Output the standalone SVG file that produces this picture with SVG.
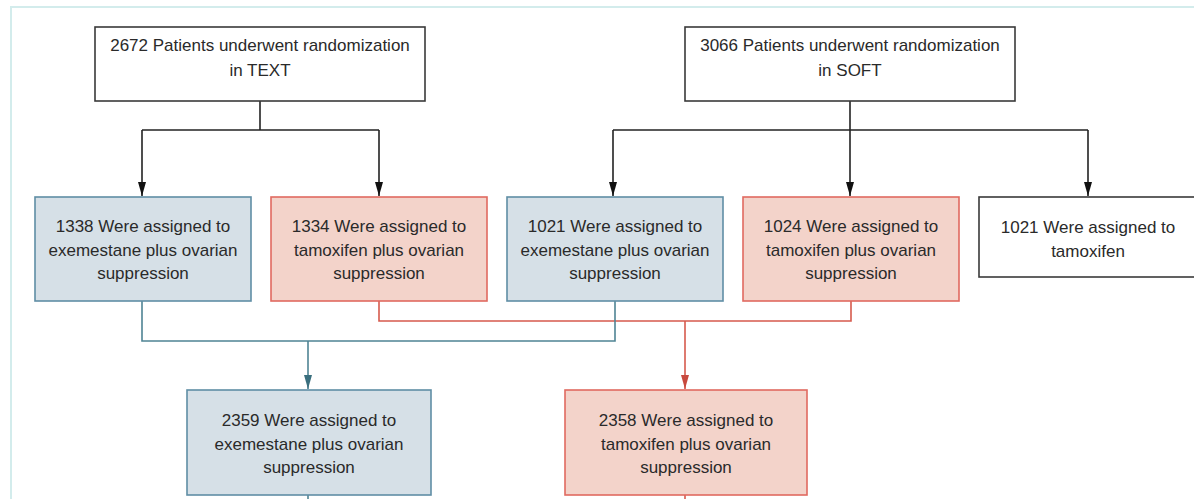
<svg xmlns="http://www.w3.org/2000/svg" width="1194" height="499" viewBox="0 0 1194 499">
<defs>
<style>
.t{font-family:"Liberation Sans",Arial,sans-serif;font-size:17px;fill:#2a2a2a;text-anchor:middle}
.bw{fill:#ffffff;stroke:#3a3a3a;stroke-width:1.6}
.bb{fill:#d6e0e7;stroke:#5f8ea5;stroke-width:1.6}
.br{fill:#f3d3ca;stroke:#e06a60;stroke-width:1.6}
.ck{fill:none;stroke:#222;stroke-width:1.6}
.cb{fill:none;stroke:#4f8494;stroke-width:1.6}
.cr{fill:none;stroke:#d65a4d;stroke-width:1.6}
</style>
<marker id="ak" viewBox="0 0 14 8" refX="14" refY="4" markerWidth="14" markerHeight="8" markerUnits="userSpaceOnUse" orient="auto"><path d="M0,0 L14,4 L0,8 z" fill="#111"/></marker>
<marker id="ab" viewBox="0 0 14 8" refX="14" refY="4" markerWidth="14" markerHeight="8" markerUnits="userSpaceOnUse" orient="auto"><path d="M0,0 L14,4 L0,8 z" fill="#3a6f7e"/></marker>
<marker id="ar" viewBox="0 0 14 8" refX="14" refY="4" markerWidth="14" markerHeight="8" markerUnits="userSpaceOnUse" orient="auto"><path d="M0,0 L14,4 L0,8 z" fill="#c84a3e"/></marker>
</defs>
<rect width="1194" height="499" fill="#ffffff"/>
<g id="frame" fill="none" stroke="#d3ecec" stroke-width="2">
<path d="M11,499 V7 H1194"/>
</g>
<g id="connectors">
<path class="ck" d="M260,101 V130"/>
<path class="ck" d="M142,130 H379"/>
<path class="ck" d="M142,130 V196" marker-end="url(#ak)"/>
<path class="ck" d="M379,130 V196" marker-end="url(#ak)"/>
<path class="ck" d="M850,101 V130"/>
<path class="ck" d="M613,130 H1088"/>
<path class="ck" d="M613,130 V196" marker-end="url(#ak)"/>
<path class="ck" d="M850,130 V196" marker-end="url(#ak)"/>
<path class="ck" d="M1088,130 V196" marker-end="url(#ak)"/>
<path class="cr" d="M379,301 V321 H851 V301"/>
<path class="cb" d="M142,301 V341 H615 V301"/>
<path class="cb" d="M308,341 V389" marker-end="url(#ab)"/>
<path class="cr" d="M685,321 V389" marker-end="url(#ar)"/>
<path class="cb" d="M308,495 V499"/>
<path class="cr" d="M685,495 V499"/>
</g>
<g id="text-rand">
<rect class="bw" x="95" y="27" width="330" height="74"/>
<text class="t" x="260" y="51">2672 Patients underwent randomization</text>
<text class="t" x="260" y="76">in TEXT</text>
</g>
<g id="soft-rand">
<rect class="bw" x="685" y="27" width="330" height="74"/>
<text class="t" x="850" y="51">3066 Patients underwent randomization</text>
<text class="t" x="850" y="76">in SOFT</text>
</g>
<g id="text-exe">
<rect class="bb" x="35" y="197" width="216" height="104"/>
<text class="t" x="143" y="232">1338 Were assigned to</text>
<text class="t" x="143" y="256">exemestane plus ovarian</text>
<text class="t" x="143" y="279">suppression</text>
</g>
<g id="text-tam">
<rect class="br" x="271" y="197" width="216" height="104"/>
<text class="t" x="379" y="232">1334 Were assigned to</text>
<text class="t" x="379" y="256">tamoxifen plus ovarian</text>
<text class="t" x="379" y="279">suppression</text>
</g>
<g id="soft-exe">
<rect class="bb" x="507" y="197" width="216" height="104"/>
<text class="t" x="615" y="232">1021 Were assigned to</text>
<text class="t" x="615" y="256">exemestane plus ovarian</text>
<text class="t" x="615" y="279">suppression</text>
</g>
<g id="soft-tamos">
<rect class="br" x="743" y="197" width="216" height="104"/>
<text class="t" x="851" y="232">1024 Were assigned to</text>
<text class="t" x="851" y="256">tamoxifen plus ovarian</text>
<text class="t" x="851" y="279">suppression</text>
</g>
<g id="soft-tam">
<rect class="bw" x="979" y="197" width="230" height="80"/>
<text class="t" x="1088" y="233">1021 Were assigned to</text>
<text class="t" x="1088" y="257">tamoxifen</text>
</g>
<g id="pooled-exe">
<rect class="bb" x="187" y="390" width="244" height="105"/>
<text class="t" x="309" y="426">2359 Were assigned to</text>
<text class="t" x="309" y="450">exemestane plus ovarian</text>
<text class="t" x="309" y="473">suppression</text>
</g>
<g id="pooled-tam">
<rect class="br" x="565" y="390" width="242" height="105"/>
<text class="t" x="686" y="426">2358 Were assigned to</text>
<text class="t" x="686" y="450">tamoxifen plus ovarian</text>
<text class="t" x="686" y="473">suppression</text>
</g>
</svg>
